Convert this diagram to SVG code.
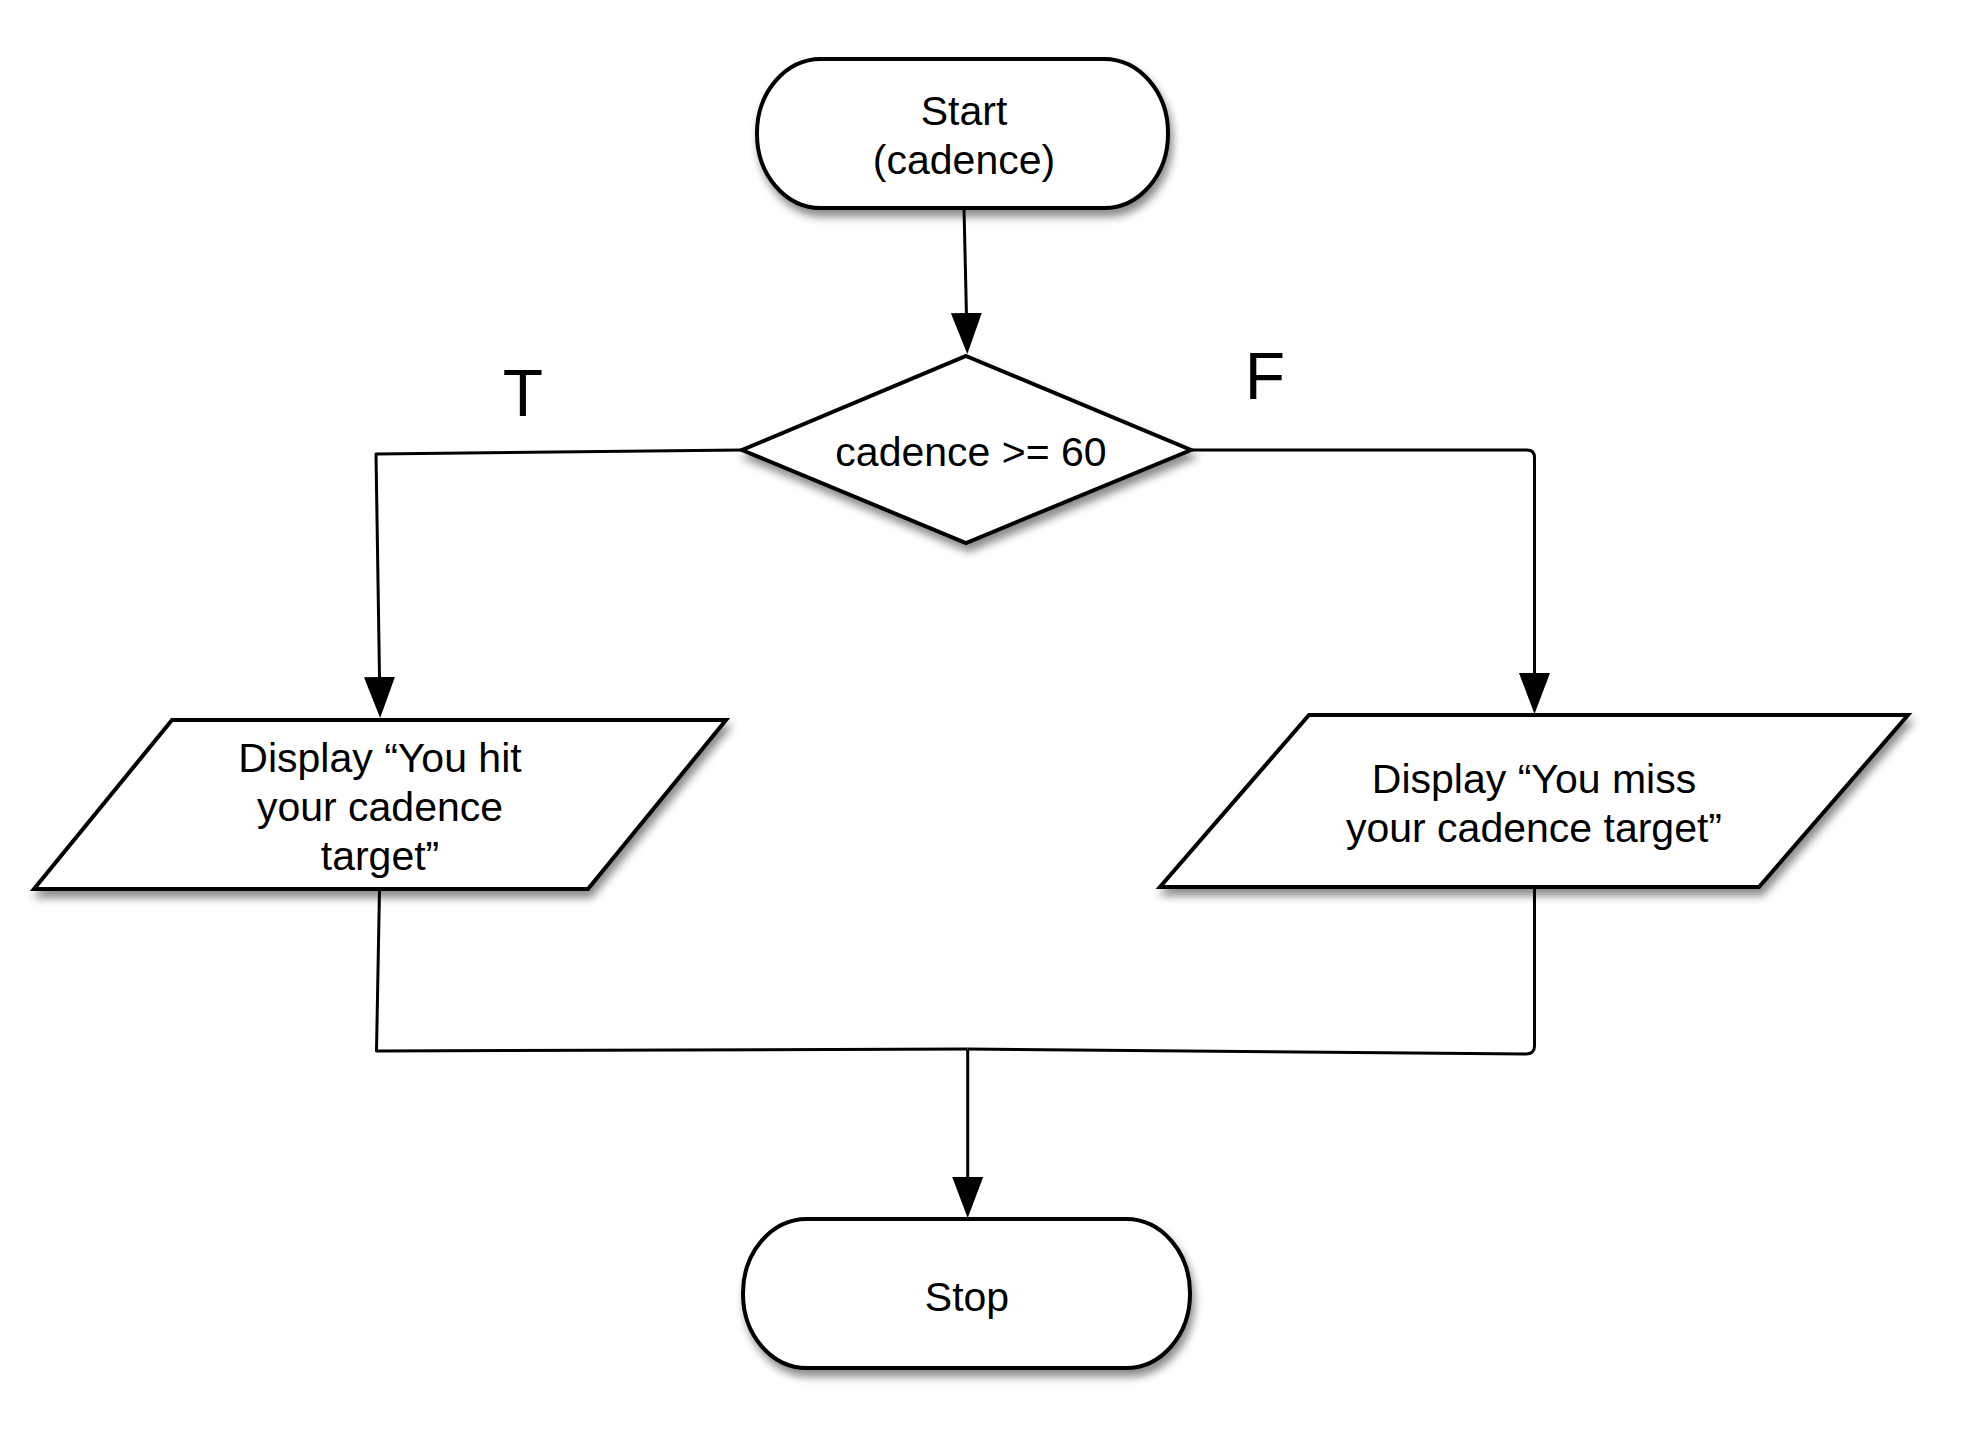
<svg xmlns="http://www.w3.org/2000/svg" width="1980" height="1436" viewBox="0 0 1980 1436">
<defs>
<filter id="sh" x="-10%" y="-10%" width="130%" height="140%">
<feDropShadow dx="3" dy="7" stdDeviation="4" flood-color="#000" flood-opacity="0.45"/>
</filter>
<marker id="arr" markerUnits="userSpaceOnUse" markerWidth="41" markerHeight="32" refX="0" refY="16" orient="auto" viewBox="0 0 41 32">
<path d="M0,0.5 L41,16 L0,31.5 z" fill="#000"/>
</marker>
</defs>
<style>
.shape{fill:#fff;stroke:#000;stroke-width:4;stroke-linejoin:miter;filter:url(#sh)}
.lbl{font-family:"Liberation Sans",Arial,Helvetica,sans-serif;font-size:41px;fill:#000;text-anchor:middle}
.big{font-family:"Liberation Sans",Arial,Helvetica,sans-serif;font-size:66px;fill:#000;text-anchor:middle}
.conn{fill:none;stroke:#000;stroke-width:3;stroke-linejoin:round}
</style>
<rect width="1980" height="1436" fill="#fff"/>
<g id="connectors">
<path class="conn" d="M964,208 L966.4,313" marker-end="url(#arr)"/>
<path class="conn" d="M742,450 L376,454 L379.5,677" marker-end="url(#arr)"/>
<path class="conn" d="M1192,450 L1527,450 Q1534.5,450 1534.5,457.5 L1534.5,673" marker-end="url(#arr)"/>
<path class="conn" d="M379.5,889 L376.5,1051 L967.7,1049"/>
<path class="conn" d="M1534.5,887 L1534.5,1046 Q1534.5,1054 1526,1054 L967.7,1049"/>
<path class="conn" d="M967.7,1050 L967.7,1177" marker-end="url(#arr)"/>
</g>
<g id="start">
<rect class="shape" x="757" y="59" width="411" height="149" rx="64" ry="74"/>
<text class="lbl" x="964" y="125">Start</text>
<text class="lbl" x="964" y="174">(cadence)</text>
</g>
<g id="decision">
<polygon class="shape" points="966,356 1191,450 966,543 742,450"/>
<text class="lbl" x="971" y="466">cadence &gt;= 60</text>
</g>
<g id="labelT"><text class="big" x="523" y="416">T</text></g>
<g id="labelF"><text class="big" x="1265" y="399">F</text></g>
<g id="hit">
<polygon class="shape" points="172,720 726,720 588,889 34,889"/>
<text class="lbl" x="380" y="772">Display “You hit</text>
<text class="lbl" x="380" y="821">your cadence</text>
<text class="lbl" x="380" y="870">target”</text>
</g>
<g id="miss">
<polygon class="shape" points="1309,715 1908,715 1759,887 1160,887"/>
<text class="lbl" x="1534" y="793">Display “You miss</text>
<text class="lbl" x="1534" y="842">your cadence target”</text>
</g>
<g id="stop">
<rect class="shape" x="743" y="1219" width="447" height="149" rx="64" ry="74"/>
<text class="lbl" x="967" y="1311">Stop</text>
</g>
</svg>
